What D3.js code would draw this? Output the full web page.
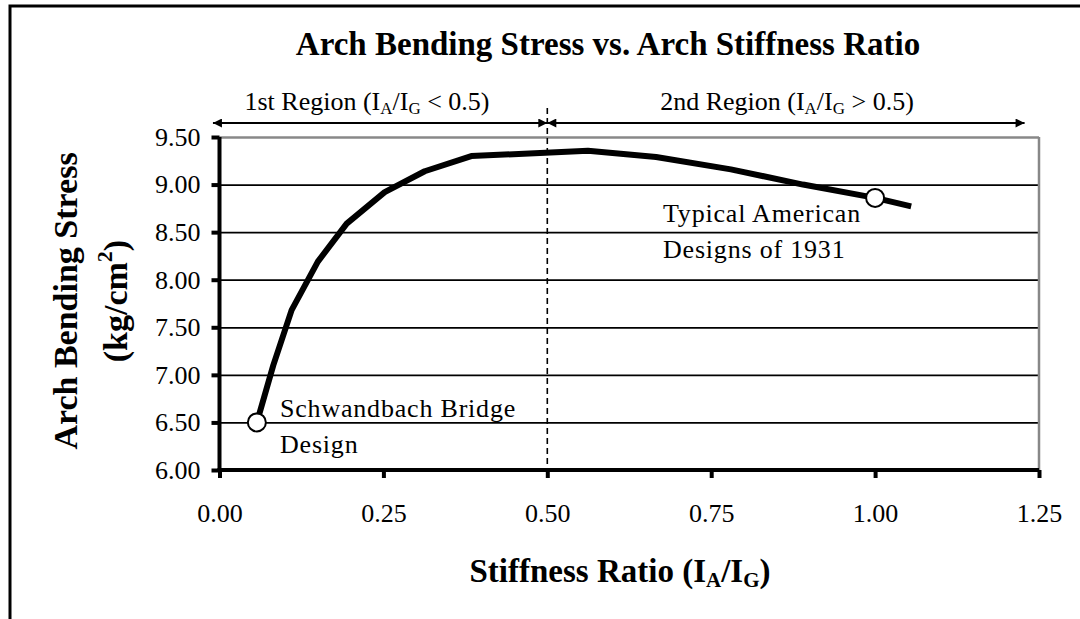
<!DOCTYPE html>
<html>
<head>
<meta charset="utf-8">
<script src="https://cdn.jsdelivr.net/npm/d3@7/dist/d3.min.js"></script>
<style>
  body { margin: 0; background: #fff; }
  svg { display: block; font-family: "Liberation Serif", "Times New Roman", serif; }
</style>
</head>
<body>
<div id="chart"></div>
<script>
// curve
var ratio  = [0.057, 0.082, 0.11, 0.15, 0.194, 0.252, 0.313, 0.384, 0.562, 0.666, 0.78, 0.89, 1.0, 1.055];
var stress = [6.50, 7.10, 7.68, 8.19, 8.59, 8.92, 9.14, 9.30, 9.355, 9.29, 9.16, 9.00, 8.86, 8.77];

// marked designs
var designRatio  = [0.057, 1.0];
var designStress = [6.50, 8.86];

var xTicks = [0, 0.25, 0.5, 0.75, 1.0, 1.25];
var yTicks = [6.0, 6.5, 7.0, 7.5, 8.0, 8.5, 9.0, 9.5];

// region arrows (start, end) and split value
var regionStart = [-0.01, 0.5];
var regionEnd   = [0.5, 1.228];
var splitRatio  = 0.5;

var width = 1080, height = 619;
var margin = {top: 137, right: 41, bottom: 149, left: 219.5};

var svg = d3.select('#chart').append('svg')
    .attr('width', width)
    .attr('height', height);

// outer frame (only left + top edges are inside the picture)
svg.append('rect')
    .attr('x', 10).attr('y', 6)
    .attr('width', 1200).attr('height', 800)
    .attr('fill', 'none')
    .attr('stroke', '#000')
    .attr('stroke-width', 3);

var x = d3.scaleLinear().domain([0, 1.25]).range([margin.left, width - margin.right]);
var y = d3.scaleLinear().domain([6, 9.5]).range([height - margin.bottom, margin.top]);

var defs = svg.append('defs');
defs.append('marker')
    .attr('id', 'arrow')
    .attr('viewBox', '0 0 10 10')
    .attr('refX', 10).attr('refY', 5)
    .attr('markerWidth', 13).attr('markerHeight', 9)
    .attr('markerUnits', 'userSpaceOnUse')
    .attr('orient', 'auto-start-reverse')
    .append('path')
    .attr('d', 'M0,0L10,5L0,10Z')
    .attr('fill', '#000');

// grid lines
svg.append('g')
    .attr('class', 'grid')
    .attr('transform', 'translate(' + x(0) + ',0)')
    .call(d3.axisRight(y).tickValues(yTicks.slice(1)).tickSize(x(1.25) - x(0)).tickFormat(''))
    .call(function(g){
        g.select('.domain').remove();
        g.selectAll('line')
            .attr('stroke', function(d){ return d === 9.5 ? '#888' : '#000'; })
            .attr('stroke-width', function(d){ return d === 9.5 ? 2.5 : 1.8; });
    });

// right border of plot
svg.append('line')
    .attr('x1', x(1.25)).attr('x2', x(1.25))
    .attr('y1', y(9.5)).attr('y2', y(6))
    .attr('stroke', '#888')
    .attr('stroke-width', 2.5);

// dashed split line
svg.append('line')
    .attr('x1', x(splitRatio)).attr('x2', x(splitRatio))
    .attr('y1', 108).attr('y2', y(6))
    .attr('stroke', '#000')
    .attr('stroke-width', 1.6)
    .attr('stroke-dasharray', '6,4');

// y axis
svg.append('g')
    .attr('transform', 'translate(' + x(0) + ',0)')
    .call(d3.axisLeft(y).tickValues(yTicks).tickSize(8).tickPadding(11).tickFormat(d3.format('.2f')))
    .call(function(g){
        g.select('.domain').attr('stroke-width', 4).attr('d', 'M0,' + y(9.5) + 'V' + (y(6) + 2));
        g.selectAll('.tick line').attr('stroke-width', 4);
        g.selectAll('text')
            .style('font-family', '"Liberation Serif", serif')
            .style('font-size', '26px')
            .attr('fill', '#000');
    });

// x axis
svg.append('g')
    .attr('transform', 'translate(0,' + y(6) + ')')
    .call(d3.axisBottom(x).tickValues(xTicks).tickSize(8).tickPadding(26).tickFormat(d3.format('.2f')))
    .call(function(g){
        g.select('.domain').attr('stroke-width', 4).attr('d', 'M' + (x(0) - 2) + ',0H' + x(1.25));
        g.selectAll('.tick line').attr('stroke-width', 4);
        g.selectAll('text')
            .style('font-family', '"Liberation Serif", serif')
            .style('font-size', '26px')
            .attr('fill', '#000');
    });

// curve
var pts = ratio.map(function(r, i){ return [r, stress[i]]; });
var line = d3.line().x(function(d){ return x(d[0]); }).y(function(d){ return y(d[1]); });
svg.append('path')
    .datum(pts)
    .attr('d', line)
    .attr('fill', 'none')
    .attr('stroke', '#000')
    .attr('stroke-width', 6)
    .attr('stroke-linejoin', 'round');

// design markers
svg.selectAll('.design')
    .data(designRatio.map(function(r, i){ return [r, designStress[i]]; }))
    .enter().append('circle')
    .attr('class', 'design')
    .attr('cx', function(d){ return x(d[0]); })
    .attr('cy', function(d){ return y(d[1]); })
    .attr('r', 9)
    .attr('fill', '#fff')
    .attr('stroke', '#000')
    .attr('stroke-width', 2);

// region arrows
var arrowY = 123;
regionStart.forEach(function(s, i){
    svg.append('line')
        .attr('x1', x(s)).attr('x2', x(regionEnd[i]))
        .attr('y1', arrowY).attr('y2', arrowY)
        .attr('stroke', '#000')
        .attr('stroke-width', 2)
        .attr('marker-start', 'url(#arrow)')
        .attr('marker-end', 'url(#arrow)');
});

// text with subscripts: parts = [[text, sub?], ...]
function richText(g, px, py, parts, size, weight){
    var t = g.append('text')
        .attr('x', px).attr('y', py)
        .attr('text-anchor', 'middle')
        .style('font-size', size + 'px')
        .style('font-weight', weight || 'normal');
    parts.forEach(function(p){
        var s = t.append('tspan').text(p[0]);
        if (p[1] === 'sub') s.attr('baseline-shift', '-22%').style('font-size', Math.round(size * 0.65) + 'px');
        if (p[1] === 'sup') s.attr('baseline-shift', '70%').style('font-size', Math.round(size * 0.65) + 'px');
    });
    return t;
}

richText(svg, 608, 55, [['Arch Bending Stress vs. Arch Stiffness Ratio']], 33, 'bold');

richText(svg, 367, 110, [['1st Region (I'], ['A', 'sub'], ['/I'], ['G', 'sub'], [' < 0.5)']], 26);
richText(svg, 787, 110, [['2nd Region (I'], ['A', 'sub'], ['/I'], ['G', 'sub'], [' > 0.5)']], 26);

richText(svg, 620, 582, [['Stiffness Ratio (I'], ['A', 'sub'], ['/I'], ['G', 'sub'], [')']], 33, 'bold');

var yl = svg.append('g');
richText(yl, 0, 0, [['Arch Bending Stress']], 34, 'bold')
    .attr('transform', 'translate(77,301) rotate(-90)');
richText(yl, 0, 0, [['(kg/cm'], ['2', 'sup'], [')']], 34, 'bold')
    .attr('transform', 'translate(127,301) rotate(-90)');

// annotations
var notes = [
    {x: 280, y: 417, t: 'Schwandbach Bridge'},
    {x: 280, y: 453, t: 'Design'},
    {x: 663, y: 222, t: 'Typical American'},
    {x: 663, y: 258, t: 'Designs of 1931'}
];
svg.selectAll('.note')
    .data(notes)
    .enter().append('text')
    .attr('class', 'note')
    .attr('x', function(d){ return d.x; })
    .attr('y', function(d){ return d.y; })
    .style('font-size', '26px')
    .style('letter-spacing', '0.8px')
    .text(function(d){ return d.t; });
</script>
</body>
</html>
